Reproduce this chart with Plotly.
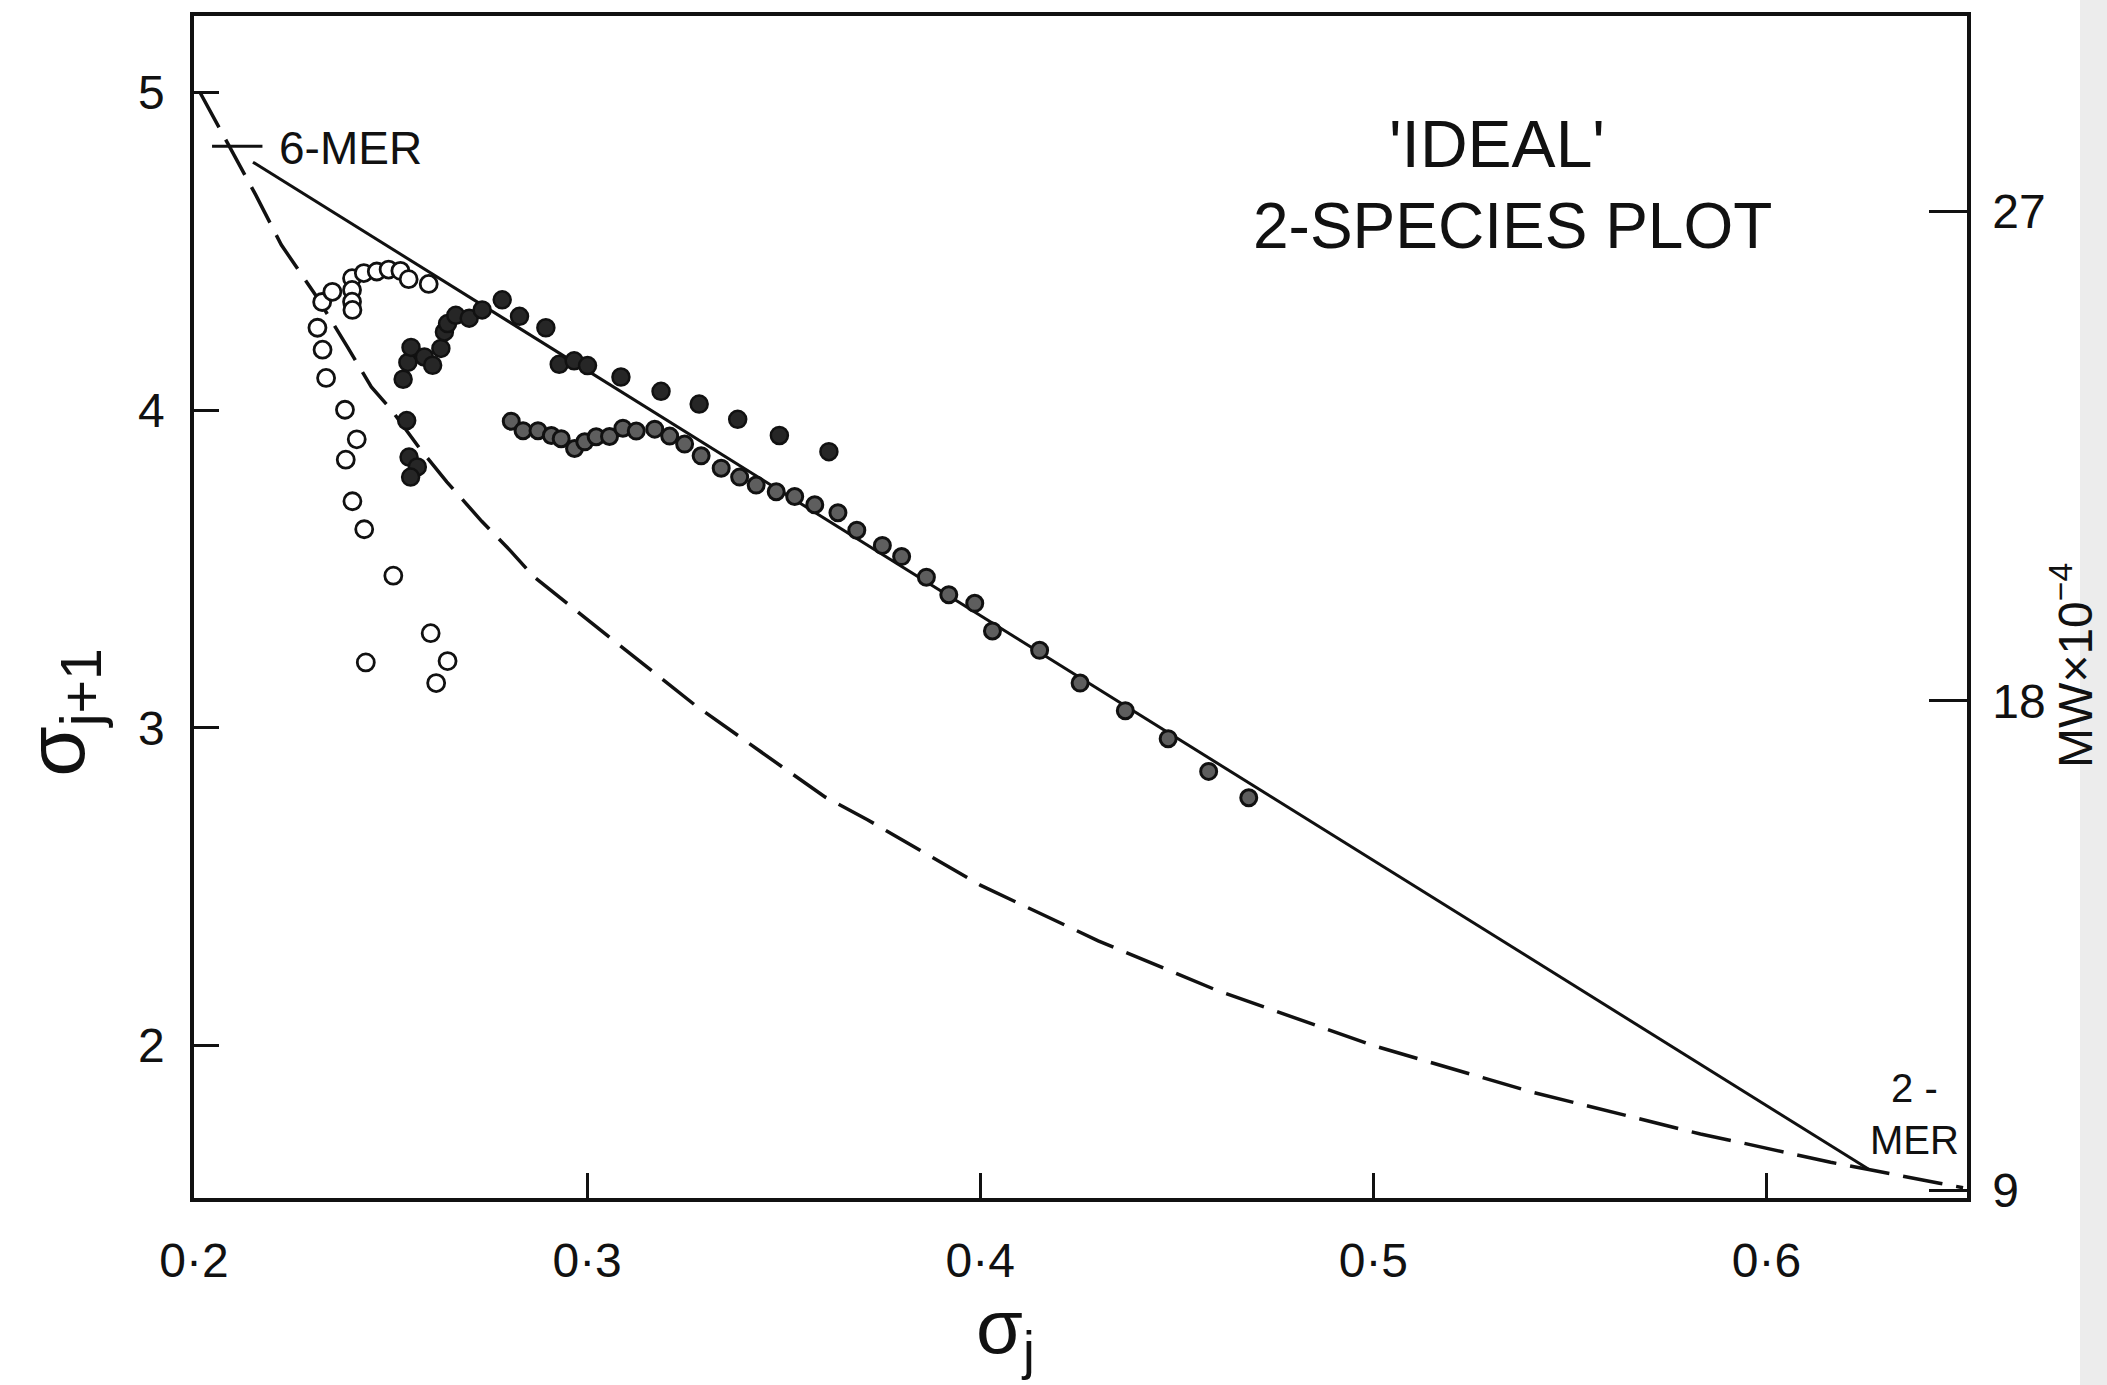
import plotly.graph_objects as go

# ---------------- data ----------------
X_TICKS = [0.2, 0.3, 0.4, 0.5, 0.6]
X_TICK_TEXT = ["0·2", "0·3", "0·4", "0·5", "0·6"]
Y_TICKS = [2, 3, 4, 5]
MW_TICKS = [9, 18, 27]

# open circles
OPEN_X = [0.2326, 0.2352, 0.2402, 0.2402, 0.2402, 0.2403, 0.2432, 0.2465, 0.2495,
          0.2525, 0.2546, 0.2597, 0.2314, 0.2327, 0.2336, 0.2384, 0.2414, 0.2386,
          0.2403, 0.2433, 0.2507, 0.2602, 0.2437, 0.2645, 0.2616]
OPEN_Y = [4.340, 4.372, 4.415, 4.378, 4.341, 4.315, 4.431, 4.436, 4.442,
          4.438, 4.412, 4.397, 4.259, 4.190, 4.101, 4.001, 3.908, 3.844,
          3.713, 3.625, 3.479, 3.298, 3.206, 3.210, 3.141]

# dark (hatched) circles
DARK_X = [0.2541, 0.2547, 0.2568, 0.2551, 0.2532, 0.2544, 0.2552, 0.2586, 0.2607,
          0.2628, 0.2637, 0.2645, 0.2666, 0.2700, 0.2733, 0.2784, 0.2828, 0.2895,
          0.2929, 0.2967, 0.3001, 0.3086, 0.3188, 0.3285, 0.3383, 0.3489, 0.3615]
DARK_Y = [3.967, 3.852, 3.821, 3.789, 4.097, 4.150, 4.197, 4.167, 4.141,
          4.194, 4.246, 4.272, 4.298, 4.289, 4.315, 4.347, 4.295, 4.259,
          4.144, 4.155, 4.140, 4.104, 4.059, 4.019, 3.971, 3.920, 3.869]

# lower row of circles
ROW_X = [0.2807, 0.2837, 0.2875, 0.2909, 0.2934, 0.2968, 0.2994, 0.3023, 0.3057,
         0.3091, 0.3125, 0.3172, 0.3210, 0.3248, 0.3290, 0.3341, 0.3388, 0.3430,
         0.3481, 0.3528, 0.3579, 0.3638, 0.3686, 0.3751, 0.3800, 0.3863, 0.3920,
         0.3986, 0.4031, 0.4151, 0.4254, 0.4369, 0.4478, 0.4581, 0.4683]
ROW_Y = [3.965, 3.935, 3.935, 3.920, 3.910, 3.879, 3.900, 3.916, 3.917,
         3.943, 3.934, 3.940, 3.918, 3.893, 3.856, 3.817, 3.789, 3.764,
         3.743, 3.728, 3.702, 3.677, 3.622, 3.574, 3.539, 3.474, 3.419,
         3.392, 3.305, 3.244, 3.141, 3.054, 2.966, 2.863, 2.780]

# straight line 6-mer -> 2-mer
SOLID_X = [0.2150, 0.6259]
SOLID_Y = [4.780, 1.612]

# dashed curve
DASH_X = [0.2015, 0.2093, 0.2157, 0.2222, 0.2313, 0.2391, 0.2451, 0.2502, 0.2575,
          0.2643, 0.2732, 0.2805, 0.2865, 0.2959, 0.2984, 0.3275, 0.3402, 0.3509,
          0.3606, 0.3713, 0.4000, 0.4300, 0.4600, 0.5000, 0.5400, 0.5832, 0.5942,
          0.6043, 0.6163, 0.6260, 0.6360, 0.6440, 0.6500]
DASH_Y = [5.000, 4.822, 4.677, 4.520, 4.355, 4.197, 4.073, 4.001, 3.878,
          3.774, 3.650, 3.557, 3.475, 3.382, 3.357, 3.071, 2.958, 2.866,
          2.782, 2.711, 2.505, 2.330, 2.175, 2.000, 1.855, 1.722, 1.693,
          1.665, 1.633, 1.610, 1.585, 1.567, 1.553]

MER6_X = [0.2110]
MER6_Y = [4.830]

# ---------------- figure ----------------
INK = "#111111"
FONT = "Liberation Sans"
W, H = 2107, 1385
L, R, T, B = 194, 140, 14, 187
PW, PH = W - L - R, H - T - B


def px(x):
    return (x - L) / PW


def py(y):
    return (H - B - y) / PH


fig = go.Figure()

fig.add_trace(go.Scatter(x=DASH_X, y=DASH_Y, mode="lines",
                         line=dict(color=INK, width=3.5, dash="40px,14px"),
                         hoverinfo="skip", showlegend=False))
fig.add_trace(go.Scatter(x=SOLID_X, y=SOLID_Y, mode="lines",
                         line=dict(color=INK, width=3),
                         hoverinfo="skip", showlegend=False))
fig.add_trace(go.Scatter(x=MER6_X, y=MER6_Y, mode="markers",
                         marker=dict(symbol="line-ew", size=36,
                                     line=dict(color=INK, width=3)),
                         hoverinfo="skip", showlegend=False))
fig.add_trace(go.Scatter(x=OPEN_X, y=OPEN_Y, mode="markers",
                         marker=dict(symbol="circle", size=17, color="white",
                                     line=dict(color=INK, width=2.8)),
                         showlegend=False))
fig.add_trace(go.Scatter(x=ROW_X, y=ROW_Y, mode="markers",
                         marker=dict(symbol="circle", size=16, color="#5e5e5e",
                                     line=dict(color=INK, width=3)),
                         showlegend=False))
fig.add_trace(go.Scatter(x=DARK_X, y=DARK_Y, mode="markers",
                         marker=dict(symbol="circle", size=17, color="#262626",
                                     line=dict(color=INK, width=2.5)),
                         showlegend=False))
# carrier trace for the secondary (MW) axis
fig.add_trace(go.Scatter(x=[None], y=[None], yaxis="y2", mode="markers",
                         hoverinfo="skip", showlegend=False))

axis_common = dict(showgrid=False, zeroline=False, showline=True,
                   linecolor=INK, linewidth=3.5, ticks="inside",
                   tickcolor=INK, tickwidth=3,
                   tickfont=dict(family=FONT, size=48, color=INK))

fig.update_layout(
    width=W, height=H, autosize=False,
    margin=dict(l=L, r=R, t=T, b=B),
    paper_bgcolor="white", plot_bgcolor="white",
    font=dict(family=FONT, color=INK),
    xaxis=dict(range=[0.2, 0.651], tickvals=X_TICKS, ticktext=X_TICK_TEXT,
               ticklen=25, mirror=True, ticklabelstandoff=18, **axis_common),
    yaxis=dict(range=[1.5206, 5.24], tickvals=Y_TICKS, ticklen=25,
               ticklabelstandoff=16, **axis_common),
    yaxis2=dict(range=[8.853, 30.6], tickvals=MW_TICKS, overlaying="y",
                side="right", ticklen=38, ticklabelstandoff=12, **axis_common),
)

ann = [
    dict(text="'IDEAL'", x=px(1497), y=py(142), size=66),
    dict(text="2-SPECIES PLOT", x=px(1512), y=py(224), size=64),
    dict(text="6-MER", x=px(350), y=py(146), size=46),
    dict(text="2 -<br>MER", x=px(1914), y=py(1114), size=40),
]
for a in ann:
    fig.add_annotation(text=a["text"], x=a["x"], y=a["y"], xref="paper", yref="paper",
                       showarrow=False, xanchor="center", yanchor="middle",
                       font=dict(family=FONT, size=a["size"], color=INK))

fig.add_annotation(text="σ<sub>j+1</sub>", x=px(62), y=py(712), xref="paper", yref="paper",
                   showarrow=False, textangle=-90, xanchor="center", yanchor="middle",
                   font=dict(family=FONT, size=82, color=INK))
fig.add_annotation(text="σ<sub>j</sub>", x=px(974), y=py(1282), xref="paper", yref="paper",
                   showarrow=False, xanchor="left", yanchor="top",
                   font=dict(family=FONT, size=76, color=INK))
fig.add_annotation(text="MW×10<sup>−4</sup>", x=px(2072), y=py(665), xref="paper", yref="paper",
                   showarrow=False, textangle=-90, xanchor="center", yanchor="middle",
                   font=dict(family=FONT, size=48, color=INK))

# scanner edge strip
fig.add_shape(type="rect", xref="paper", yref="paper", x0=px(2080), x1=px(W + 5),
              y0=py(H + 5), y1=py(-5), fillcolor="#ececec", line=dict(width=0), layer="below")

fig.write_html("out.html")
